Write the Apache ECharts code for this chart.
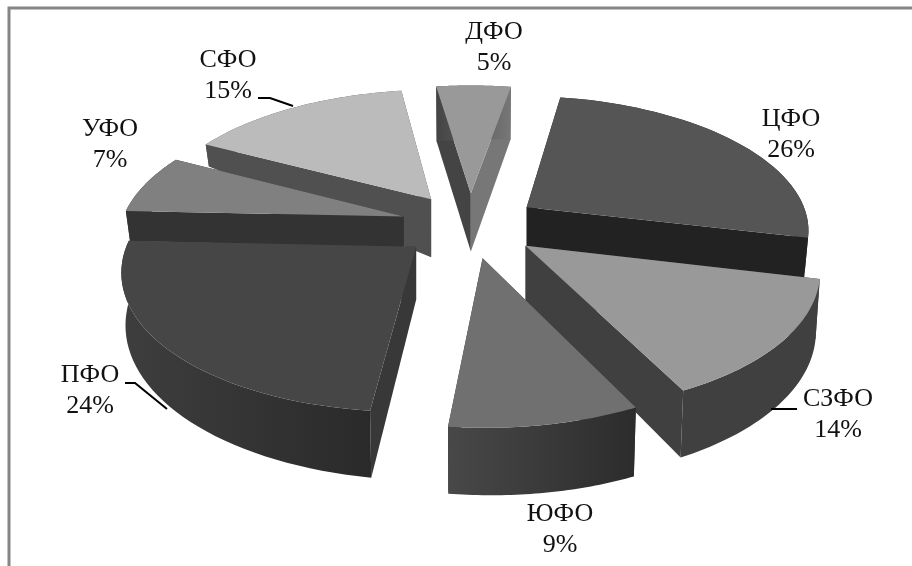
<!DOCTYPE html>
<html><head><meta charset="utf-8">
<style>html,body{margin:0;padding:0;background:#fff}#c{width:912px;height:566px}</style>
<script src="https://cdn.jsdelivr.net/npm/echarts@6/dist/echarts.min.js"></script>
</head><body><div id="c"></div>
<script>
// --- data (clockwise from the top)
var regions = ['ЦФО','СЗФО','ЮФО','ПФО','УФО','СФО','ДФО'];
var shares  = [26,14,9,24,7,15,5];

// --- styling per region
var topFill   = ['#555555','#999999','#707070','#464646','#808080','#bbbbbb','#999999'];
var startWall = ['#222222','#404040','#333333','#383838','#333333','#505050','#444444'];
var endWall   = ['#222222','#404040','#333333','#383838','#333333','#505050','#777777'];
var rimLeft   = ['#222222','#404040','#484848','#3e3e3e','#333333','#505050','#444444'];
var rimRight  = ['#222222','#404040','#2c2c2c','#2a2a2a','#333333','#505050','#777777'];
// thickness of the drawn 3D body: at the centre tip, at the start rim, at the end rim
var depthTip   = [40,56,60,53,31,58,58];
var depthStart = [40,60,69,67,30,22,55];
var depthEnd   = [42,67,67,50,30,22,53];
// label centres and leader lines
var labelXY = [[791,135],[838,415],[560,530],[90,391],[110,145],[228,76],[494,48]];
var leaders = [null,[[771,409],[797,409]],null,[[125,383],[135,383],[167,409]],null,[[258,98],[270,98],[293,106]],null];

// --- projection
var CX=470,CY=225,RX=283,RY=133,EXPLODE=0.245,PERSP=0.15,START=9.7;
function project(u,v){var s=1/(1-PERSP*v);return [CX+RX*u*s,CY+RY*v*s];}
var total=shares.reduce(function(a,b){return a+b;},0);
var from=[],acc=START;
shares.forEach(function(v,i){from[i]=acc;acc+=v/total*360;});
function rad(d){return d*Math.PI/180;}

function sliceChildren(i){
  var a0=from[i],a1=a0+shares[i]/total*360,mid=rad((a0+a1)/2);
  var ox=EXPLODE*Math.sin(mid),oy=-EXPLODE*Math.cos(mid);
  function rimPt(a){return project(ox+Math.sin(rad(a)),oy-Math.cos(rad(a)));}
  var tip=project(ox,oy);
  var arc=[],low=[],n=40;
  for(var k=0;k<=n;k++){
    var a=a0+(a1-a0)*k/n,p=rimPt(a),d=depthStart[i]+(depthEnd[i]-depthStart[i])*k/n;
    arc.push(p);
    low.push([p[0]+(CX-p[0])*0.012,p[1]+d]);
  }
  var tipLow=[tip[0],tip[1]+depthTip[i]];
  var ch=[];
  ch.push({type:'polygon',shape:{points:[tip,arc[0],low[0],tipLow]},style:{fill:startWall[i]}});
  ch.push({type:'polygon',shape:{points:[tip,arc[n],low[n],tipLow]},style:{fill:endWall[i]}});
  ch.push({type:'polygon',shape:{points:arc.concat(low.slice().reverse())},
    style:{fill:{type:'linear',x:0,y:0,x2:1,y2:0,colorStops:[{offset:0,color:rimLeft[i]},{offset:1,color:rimRight[i]}]}}});
  ch.push({type:'polygon',shape:{points:[tip].concat(arc)},style:{fill:topFill[i]}});
  return ch;
}

// paint from back to front
var order=regions.map(function(_,i){return i;}).sort(function(a,b){
  var ma=from[a]+shares[a]/total*180,mb=from[b]+shares[b]/total*180;
  return -Math.cos(rad(ma))+Math.cos(rad(mb));
});
var sliceData=order.map(function(i){return {name:regions[i],value:[shares[i],i]};});
var labelData=regions.map(function(n,i){return {name:n,value:[shares[i],i]};});

var chart=echarts.init(document.getElementById('c'),null,{renderer:'canvas'});
chart.setOption({
  animation:false,
  backgroundColor:'#ffffff',
  graphic:[{type:'rect',shape:{x:9,y:8,width:1000,height:1000},silent:true,
    style:{fill:'none',stroke:'#868686',lineWidth:3}}],
  series:[
    {type:'custom',coordinateSystem:'none',silent:true,z:2,data:sliceData,
     renderItem:function(p,api){return {type:'group',children:sliceChildren(api.value(1))};}},
    {type:'custom',coordinateSystem:'none',silent:true,z:3,data:labelData,
     renderItem:function(p,api){
       var i=api.value(1),c=labelXY[i],ch=[];
       ch.push({type:'text',style:{x:c[0],y:c[1],text:regions[i]+'\n'+api.value(0)+'%',
         fill:'#111111',font:'26px "Liberation Serif"',lineHeight:31,align:'center',verticalAlign:'middle'}});
       if(leaders[i])ch.push({type:'polyline',shape:{points:leaders[i]},style:{fill:'none',stroke:'#000',lineWidth:2}});
       return {type:'group',children:ch};
     }}
  ]
});
</script></body></html>
